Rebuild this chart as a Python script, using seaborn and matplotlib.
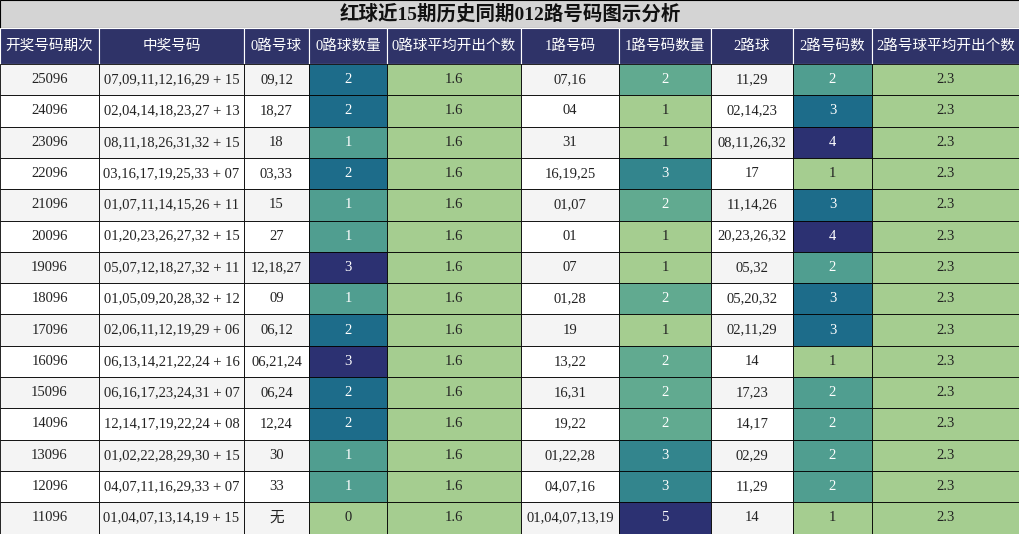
import matplotlib
matplotlib.use("Agg")
import matplotlib.pyplot as plt
import seaborn as sns
from matplotlib.patches import Rectangle
from matplotlib.colors import Normalize

sns.set_theme(style="white")
plt.rcParams['font.family'] = ['Liberation Serif', 'Noto Sans CJK SC', 'DejaVu Sans']

title = "红球近15期历史同期012路号码图示分析"
headers = ["开奖号码期次", "中奖号码", "0路号球", "0路球数量", "0路球平均开出个数",
           "1路号码", "1路号码数量", "2路球", "2路号码数", "2路号球平均开出个数"]
periods = ["25096","24096","23096","22096","21096","20096","19096","18096","17096","16096",
           "15096","14096","13096","12096","11096"]
draws = ["07,09,11,12,16,29 + 15","02,04,14,18,23,27 + 13","08,11,18,26,31,32 + 15",
         "03,16,17,19,25,33 + 07","01,07,11,14,15,26 + 11","01,20,23,26,27,32 + 15",
         "05,07,12,18,27,32 + 11","01,05,09,20,28,32 + 12","02,06,11,12,19,29 + 06",
         "06,13,14,21,22,24 + 16","06,16,17,23,24,31 + 07","12,14,17,19,22,24 + 08",
         "01,02,22,28,29,30 + 15","04,07,11,16,29,33 + 07","01,04,07,13,14,19 + 15"]
road0 = ["09,12","18,27","18","03,33","15","27","12,18,27","09","06,12","06,21,24",
         "06,24","12,24","30","33","无"]
road0_cnt = [2,2,1,2,1,1,3,1,2,3,2,2,1,1,0]
road0_avg = [1.6]*15
road1 = ["07,16","04","31","16,19,25","01,07","01","07","01,28","19","13,22",
         "16,31","19,22","01,22,28","04,07,16","01,04,07,13,19"]
road1_cnt = [2,1,1,3,2,1,1,2,1,2,2,2,3,3,5]
road2 = ["11,29","02,14,23","08,11,26,32","17","11,14,26","20,23,26,32","05,32","05,20,32",
         "02,11,29","14","17,23","14,17","02,29","11,29","14"]
road2_cnt = [2,3,4,1,3,4,2,3,3,1,2,2,2,2,1]
road2_avg = [2.3]*15

cols = [periods, draws, road0, road0_cnt, road0_avg, road1, road1_cnt, road2, road2_cnt, road2_avg]
colored = {3, 4, 6, 8, 9}
edges = [0, 99, 244, 309, 387, 521, 619, 711, 793, 872, 1020]
cmap = sns.color_palette("crest", as_cmap=True)
header_c = "#2f3368"

fig = plt.figure(figsize=(10.2, 5.34), dpi=100)
ax = fig.add_axes([0, 0, 1, 1])
ax.set_xlim(0, 1020); ax.set_ylim(534, 0); ax.axis("off")

ax.add_patch(Rectangle((0, 0), 1020, 28, fc="#d4d4d4", ec="black", lw=0.8))
ax.text(510, 14, title, ha="center", va="center", fontsize=14, fontweight="bold", color="#111111")
for j, h in enumerate(headers):
    ax.add_patch(Rectangle((edges[j], 28), edges[j+1]-edges[j], 36, fc=header_c, ec="white", lw=0.8))
    ax.text((edges[j]+edges[j+1])/2, 46, h, ha="center", va="center", fontsize=10.5, color="white")

top, rh = 64, 31.3
for j, col in enumerate(cols):
    if j in colored:
        lo, hi = min(col), max(col)
        norm = Normalize(lo, hi if hi > lo else lo + 1)
    for i, v in enumerate(col):
        y = top + i*rh
        if j in colored:
            fc = cmap(norm(v)); tc = "white" if norm(v) > 0.2 else "#222222"
        else:
            fc = "#f4f4f4" if i % 2 == 0 else "white"; tc = "#222222"
        ax.add_patch(Rectangle((edges[j], y), edges[j+1]-edges[j], rh, fc=fc, ec="black", lw=0.6))
        ax.text((edges[j]+edges[j+1])/2, y+rh/2, str(v), ha="center", va="center",
                fontsize=10.5, color=tc)

fig.savefig("out.png", dpi=100)
